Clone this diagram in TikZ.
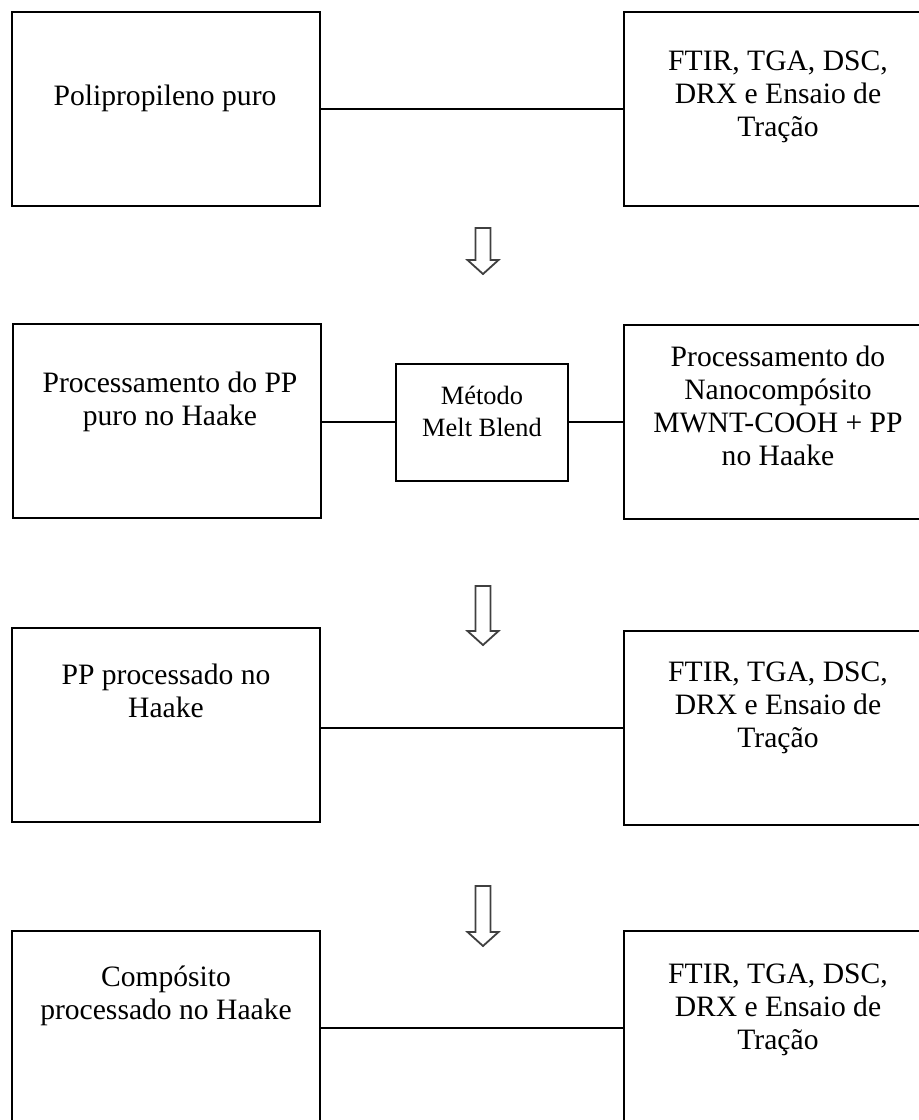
\documentclass[tikz,border=0pt]{standalone}
\usepackage{fontspec}
\setmainfont{Liberation Serif}

\begin{document}
\begin{tikzpicture}[x=0.5pt,y=-0.5pt,
  box/.style={draw,line width=1pt,minimum width=154pt,minimum height=97pt,inner sep=0pt},
  midbox/.style={draw,line width=1pt,minimum width=86pt,minimum height=58.5pt,inner sep=0pt},
  txt/.style={align=center,font=\fontsize{14.8}{16.6}\selectfont},
  midtxt/.style={align=center,font=\fontsize{13.2}{16}\selectfont},
  link/.style={line width=1pt},
  hollow/.style={draw=black!75,line width=0.9pt,line join=miter}]
\useasboundingbox (0,0) rectangle (919,1120);
\clip (0,0) rectangle (919,1120);

% linha 1
\node[box] (b1l) at (166,109) {};
\node[box] (b1r) at (778,109) {};
\node[txt] (t1l) at (165,98) {Polipropileno puro};
\node[txt] (t1r) at (778,97) {FTIR, TGA, DSC,\\DRX e Ensaio de\\Tração};
\draw[link] (b1l) -- (b1r);

% linha 2
\node[box] (b2l) at (167,421) {};
\node[midbox] (m) at (482,422) {};
\node[box] (b2r) at (778,422) {};
\node[txt] (t2l) at (170,402) {Processamento do PP\\puro no Haake};
\node[midtxt] (tm) at (482,411) {Método\\Melt Blend};
\node[txt] (t2r) at (778,406) {Processamento do\\Nanocompósito\\MWNT-COOH + PP\\no Haake};
\draw[link] (b2l.east |- m) -- (m.west);
\draw[link] (m.east) -- (b2r.west |- m);

% linha 3
\node[box] (b3l) at (166,725) {};
\node[box] (b3r) at (778,728) {};
\node[txt] (t3l) at (166,691) {PP processado no\\Haake};
\node[txt] (t3r) at (778,708) {FTIR, TGA, DSC,\\DRX e Ensaio de\\Tração};
\draw[link] (b3l.east |- b3r) -- (b3r.west);

% linha 4
\node[box] (b4l) at (166,1028) {};
\node[box] (b4r) at (778,1028) {};
\node[txt] (t4l) at (166,996) {Compósito\\processado no Haake};
\node[txt] (t4r) at (778,1010) {FTIR, TGA, DSC,\\DRX e Ensaio de\\Tração};
\draw[link] (b4l) -- (b4r);

% setas
\foreach \y/\l in {228/46,586/59,886/60}
  \draw[hollow] (475.5,\y) -- (475.5,\y+\l-14) -- (467.5,\y+\l-14) -- (483,\y+\l)
    -- (498.5,\y+\l-14) -- (490.5,\y+\l-14) -- (490.5,\y) -- cycle;
\end{tikzpicture}
\end{document}
